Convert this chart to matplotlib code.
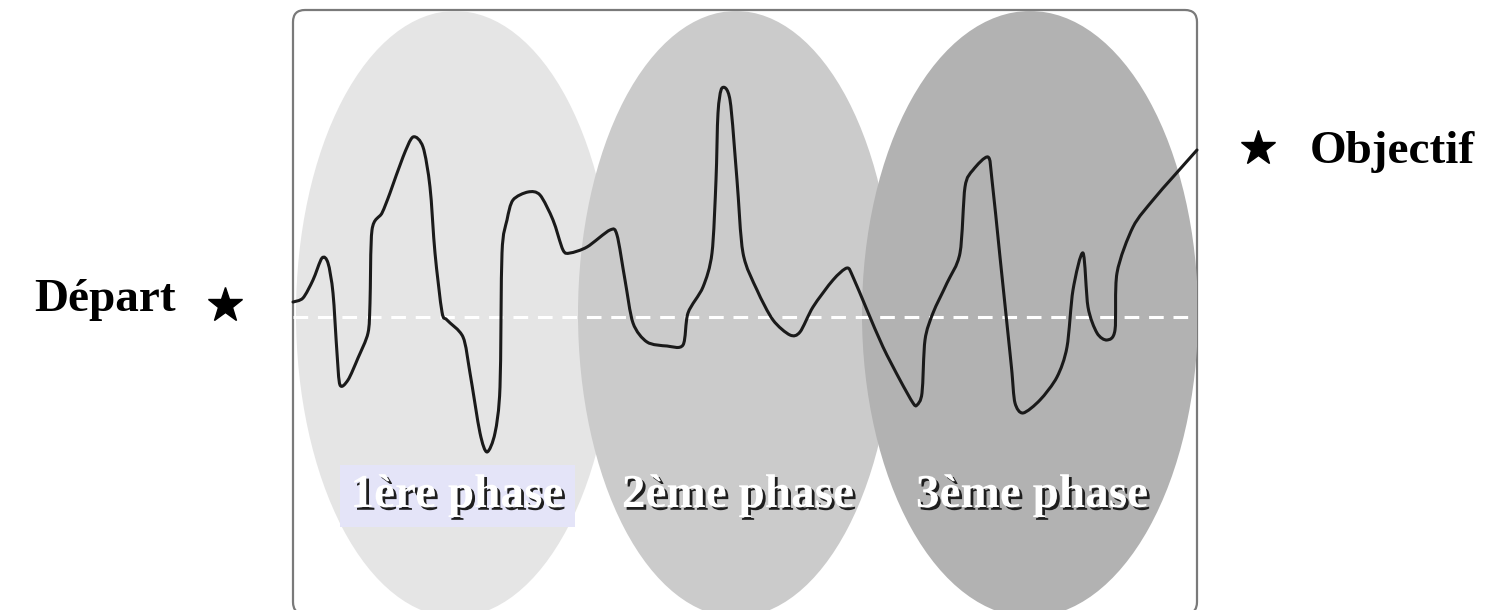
import matplotlib
matplotlib.use("Agg")
import matplotlib.pyplot as plt
import matplotlib.patheffects as pe
from matplotlib.patches import Ellipse, FancyBboxPatch, Rectangle, PathPatch
from matplotlib.path import Path

# ==========================
# Données (repère pixel de l'image, y vers le bas)
# ==========================
trajet_x = [293, 303, 313, 322, 328, 333, 337, 340, 348, 358, 368, 370, 372, 382, 390, 403, 413, 423,
            430, 435, 442, 447, 463, 470, 480, 487, 495, 500, 502, 507, 513, 528, 540, 553, 563, 570,
            587, 610, 617, 625, 633, 647, 667, 683, 688, 703, 712, 716, 718, 722, 730, 737, 743, 757,
            773, 790, 800, 813, 833, 847, 853, 867, 883, 900, 913, 917, 922, 925, 933, 947, 960, 965,
            973, 988, 992, 1000, 1010, 1012, 1015, 1023, 1040, 1057, 1067, 1073, 1083, 1088, 1097,
            1107, 1115, 1117, 1133, 1153, 1173, 1197]
trajet_y = [302, 298, 280, 258, 263, 293, 353, 385, 380, 358, 333, 303, 230, 213, 193, 157, 137, 147,
            187, 253, 312, 320, 337, 373, 433, 452, 433, 387, 253, 220, 200, 192, 195, 220, 250, 253,
            247, 230, 235, 280, 323, 342, 346, 345, 313, 287, 253, 180, 113, 88, 100, 180, 253, 290,
            320, 335, 332, 307, 280, 268, 277, 310, 347, 380, 403, 405, 393, 340, 313, 283, 253, 187,
            170, 157, 180, 257, 353, 373, 403, 413, 400, 377, 347, 290, 253, 307, 333,
            340, 330, 273, 227, 200, 177, 150]

phases = ["1ère phase", "2ème phase", "3ème phase"]
phase_cx = [455, 736, 1030]
phase_w = [318, 316, 336]
phase_couleurs = ["#e5e5e5", "#cbcbcb", "#b2b2b2"]

ligne_depart_y = 317
depart = (225, 305)
objectif = (1258, 148)


def chemin_lisse(xs, ys, k=7.0):
    # courbe de Bézier passant par les points (style de tracé uniquement)
    pts = list(zip(xs, ys))
    verts = [pts[0]]
    codes = [Path.MOVETO]
    n = len(pts)
    for i in range(n - 1):
        p0 = pts[max(i - 1, 0)]
        p1 = pts[i]
        p2 = pts[i + 1]
        p3 = pts[min(i + 2, n - 1)]
        c1 = (p1[0] + (p2[0] - p0[0]) / k, p1[1] + (p2[1] - p0[1]) / k)
        c2 = (p2[0] - (p3[0] - p1[0]) / k, p2[1] - (p3[1] - p1[1]) / k)
        verts += [c1, c2, p2]
        codes += [Path.CURVE4] * 3
    return Path(verts, codes)


# ==========================
# Figure
# ==========================
fig = plt.figure(figsize=(15.09, 6.10), dpi=100)
ax = fig.add_axes([0, 0, 1, 1])
ax.set_xlim(0, 1509)
ax.set_ylim(610, 0)
ax.axis('off')

cadre = FancyBboxPatch((293, 10), 904, 604, boxstyle="round,pad=0,rounding_size=12",
                       facecolor='white', edgecolor='#7a7a7a', linewidth=1.6, zorder=1)
ax.add_patch(cadre)

for cx, w, c in zip(phase_cx, phase_w, phase_couleurs):
    e = Ellipse((cx, 314), w, 606, facecolor=c, edgecolor='none', zorder=2)
    ax.add_patch(e)
    e.set_clip_path(cadre)

# fond lavande derrière "1ère phase"
ax.add_patch(Rectangle((340, 465), 235, 62, facecolor='#e4e4f8', edgecolor='none', zorder=3))

ax.plot([293, 1197], [ligne_depart_y, ligne_depart_y], color='white', linewidth=2.2,
        linestyle=(0, (4.8, 3.2)), zorder=4)

ax.add_patch(PathPatch(chemin_lisse(trajet_x, trajet_y), facecolor='none', edgecolor='#1a1a1a',
                       linewidth=2.2, joinstyle='round', capstyle='round', zorder=5))

ombre = [pe.SimplePatchShadow(offset=(2.0, -2.0), shadow_rgbFace='#1e1e1e', alpha=1.0), pe.Normal()]
for label, cx in zip(phases, phase_cx):
    ax.text(cx + 2, 496, label, fontsize=34, fontweight='bold', family='Liberation Serif',
            color='white', ha='center', va='center', path_effects=ombre, zorder=6)

ax.plot(*depart, marker='*', markersize=26, color='black', zorder=6)
ax.plot(*objectif, marker='*', markersize=26, color='black', zorder=6)
ax.text(176, 300, "Départ", fontsize=34, fontweight='bold', family='Liberation Serif',
        ha='right', va='center', color='black')
ax.text(1310, 152, "Objectif", fontsize=34, fontweight='bold', family='Liberation Serif',
        ha='left', va='center', color='black')

fig.savefig("out.png", dpi=100)
